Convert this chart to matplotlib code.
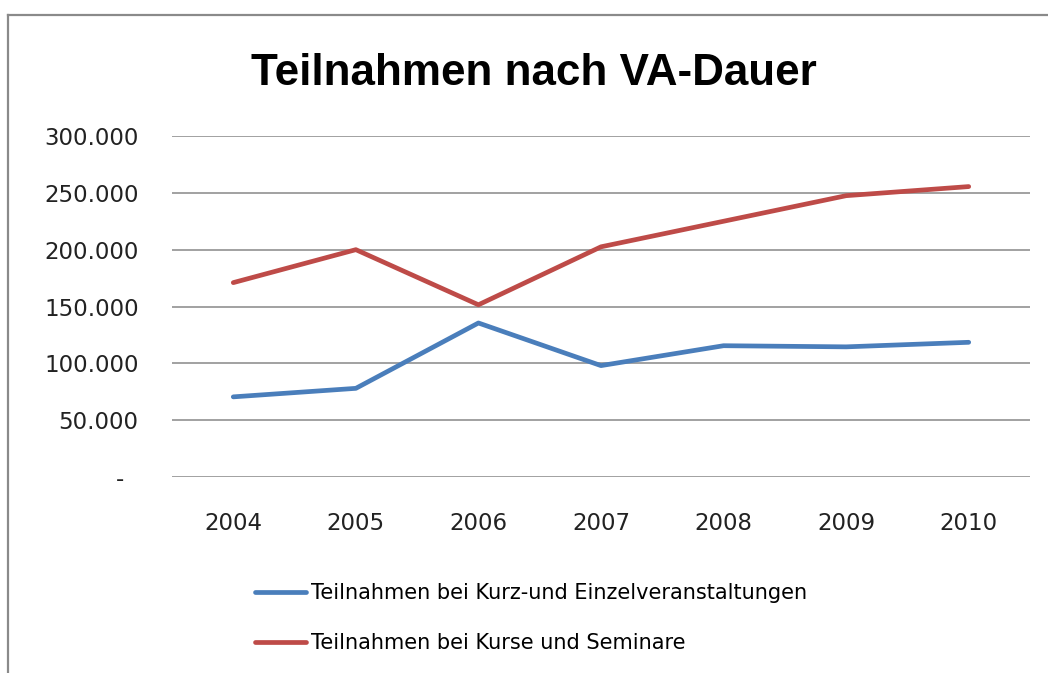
import matplotlib
matplotlib.use("Agg")
import matplotlib.pyplot as plt
from matplotlib.lines import Line2D
from matplotlib.ticker import FuncFormatter

# Data
years = ["2004", "2005", "2006", "2007", "2008", "2009", "2010"]
kurz = [70500, 78000, 135500, 98000, 115500, 114500, 118500]
kurse = [171000, 200000, 151500, 202500, 225000, 247500, 255500]
labels = ["Teilnahmen bei Kurz-und Einzelveranstaltungen",
          "Teilnahmen bei Kurse und Seminare"]
yticks = [0, 50000, 100000, 150000, 200000, 250000, 300000]

blue = "#4A7EBB"
red = "#BE4B48"

W, H = 1048, 673
fig = plt.figure(figsize=(W / 100, H / 100), dpi=100)
fig.patch.set_facecolor("white")

ax = fig.add_axes([172 / W, 1 - 477 / H, (1030 - 172) / W, (477 - 136) / H])
x = range(len(years))
ax.plot(x, kurz, color=blue, lw=3.4, solid_capstyle="round", label=labels[0])
ax.plot(x, kurse, color=red, lw=3.4, solid_capstyle="round", label=labels[1])

ax.set_xlim(-0.5, len(years) - 0.5)
ax.set_ylim(0, 300000)
ax.set_xticks(list(x))
ax.set_xticklabels(years)
ax.set_yticks(yticks)


def fmt(v, pos):
    if v == 0:
        return "-  "
    return f"{int(v):,}".replace(",", ".")


ax.yaxis.set_major_formatter(FuncFormatter(fmt))
ax.grid(axis="y", color="#888888", lw=1.1)
ax.set_axisbelow(True)
for s in ax.spines.values():
    s.set_visible(False)
ax.tick_params(axis="y", length=0, pad=24, labelsize=16.5, labelcolor="#222222")
ax.tick_params(axis="x", length=0, pad=25, labelsize=16.5, labelcolor="#222222")

fig.text(534 / W, 1 - 85 / H, "Teilnahmen nach VA-Dauer", ha="center",
         va="baseline", fontsize=31.7, fontweight="bold",
         family="Liberation Sans", color="black")

fig.legend(loc="center left", bbox_to_anchor=(255 / W, 1 - 618 / H),
           frameon=False, fontsize=15, handlelength=2.45,
           handletextpad=0.25, labelspacing=1.45, borderpad=0,
           borderaxespad=0)

# outer chart frame (top and left edges visible)
fig.add_artist(Line2D([8 / W, 8 / W], [0, 1 - 15 / H], transform=fig.transFigure,
                      color="#8a8a8a", lw=1.6))
fig.add_artist(Line2D([8 / W, 1], [1 - 15 / H, 1 - 15 / H], transform=fig.transFigure,
                      color="#8a8a8a", lw=1.6))

fig.savefig("out.png", dpi=100, facecolor="white")
